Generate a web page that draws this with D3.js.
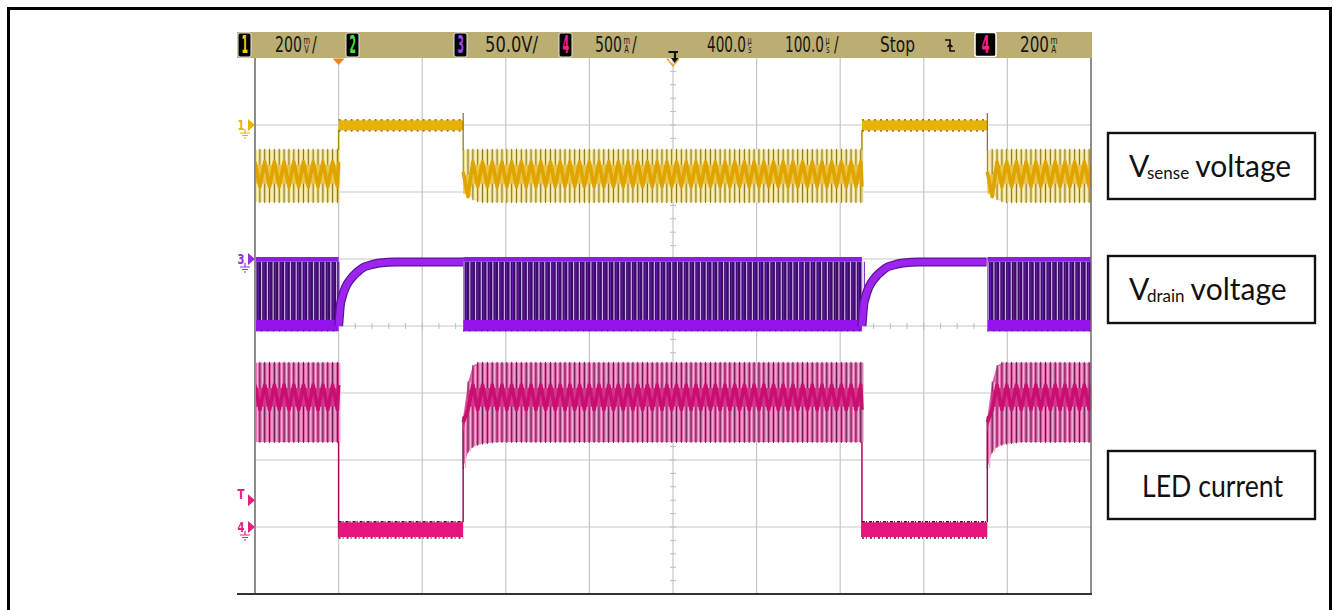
<!DOCTYPE html>
<html><head><meta charset="utf-8">
<script src="https://cdn.jsdelivr.net/npm/d3@7"></script>
<style>html,body{margin:0;padding:0;background:#fff;overflow:hidden}svg{display:block}</style>
</head><body>
<svg id="c" width="1333" height="610"></svg>
<script>
// ================= DATA =================
const timeRangeUs = [0, 1000];            // 10 div x 100 µs/div
const divRange = [-4, 4];                 // 8 vertical divisions
const offWindows = [[100, 249], [726, 876]];          // switching stopped (µs)
const onWindows = [[0, 100], [249, 726], [876, 1000]];
const switchPeriodUs = 5.8;               // ripple period of ch1 / ch4
const drainPeriodUs = 6.9;                // drain pulse period, ch3

// channel 1 : Vsense (div)
const ch1OffBand = [2.92, 3.07];
const ch1Envelope = [1.85, 2.63];
const ch1Core = [2.08, 2.45];
const ch1SettleBottom = [[0, 2.25], [4, 2.02], [10, 1.9], [20, 1.85]];  // µs after turn-on
const ch1TurnOnSpike = 3.18;

// channel 3 : Vdrain (div)
const ch3LowBand = [-0.08, 0.09];
const ch3HighBand = [0.96, 1.03];
const ch3Recovery = [[0, 0], [1, 0.15], [2, 0.3], [4, 0.42], [7, 0.54], [11, 0.64], [17, 0.74],
                     [23, 0.81], [29, 0.87], [38, 0.91], [49, 0.94], [69, 0.955], [149, 0.955]];

// channel 4 : LED current (div)
const ch4OffBand = [-3.15, -2.93];
const ch4Envelope = [-1.73, -0.55];
const ch4Core = [-1.25, -0.88];
const ch4RiseTop = [[0, -1.36], [3.6, -1.0], [8.4, -0.66], [14, -0.55]];
const ch4RiseBottom = [[0, -2.12], [3.6, -1.93], [8.4, -1.82], [20, -1.76], [40, -1.73]];

// left-side level markers
const markerLabels = ["1", "3", "T", "4"];
const markerLevels = [3.0, 1.0, -2.6, -3.0];
const markerGround = [true, true, false, true];

// header (status line)
const headerBoxes = ["1", "2", "3", "4"];
const headerMain = ["200", "50.0V/", "500", "400.0", "100.0", "Stop", "200"];
const headerUnitTop = ["m", "", "m", "µ", "µ", "", "m"];
const headerUnitBottom = ["V", "", "A", "s", "s", "", "A"];
const headerTail = ["/", "", "/", "", "/", "", ""];
const triggerPositionUs = 100;
const delayRefUs = 500;

// annotation boxes
const labelMain = ["V", "V", "LED current"];
const labelSub = ["sense", "drain", ""];
const labelTail = [" voltage", " voltage", ""];

// ================= DRAWING =================
const svg = d3.select("#c");
const x = d3.scaleLinear().domain(timeRangeUs).range([255, 1091]);
const y = d3.scaleLinear().domain(divRange).range([594, 58]);
const interp = (pts, t) => d3.scaleLinear().domain(pts.map(p => p[0])).range(pts.map(p => p[1])).clamp(true)(t);

// outer frame
svg.append("rect").attr("x", 8.5).attr("y", 8.5).attr("width", 1322).attr("height", 640)
  .attr("fill", "#fff").attr("stroke", "#000").attr("stroke-width", 3);

// screen
svg.append("rect").attr("x", x(0)).attr("y", y(4)).attr("width", x(1000) - x(0)).attr("height", y(-4) - y(4)).attr("fill", "#fff");
svg.append("defs").append("clipPath").attr("id", "scr").append("rect")
  .attr("x", x(0)).attr("y", y(4)).attr("width", x(1000) - x(0)).attr("height", y(-4) - y(4));

const grid = svg.append("g");
grid.selectAll("line.v").data(x.ticks(10).slice(1, -1)).join("line")
  .attr("x1", d => x(d)).attr("x2", d => x(d)).attr("y1", y(4)).attr("y2", y(-4))
  .attr("stroke", "#c6c6c6").attr("stroke-width", 1.2);
grid.selectAll("line.h").data(y.ticks(8).slice(1, -1)).join("line")
  .attr("y1", d => y(d)).attr("y2", d => y(d)).attr("x1", x(0)).attr("x2", x(1000))
  .attr("stroke", "#c6c6c6").attr("stroke-width", 1.2);
// minor ticks on centre axes
grid.selectAll("line.tx").data(d3.range(0, 1001, 20)).join("line")
  .attr("x1", d => x(d)).attr("x2", d => x(d)).attr("y1", y(0) - 3).attr("y2", y(0) + 3)
  .attr("stroke", "#bdbdbd").attr("stroke-width", 1);
grid.selectAll("line.ty").data(d3.range(-4, 4.01, 0.2)).join("line")
  .attr("y1", d => y(d)).attr("y2", d => y(d)).attr("x1", x(500) - 3).attr("x2", x(500) + 3)
  .attr("stroke", "#bdbdbd").attr("stroke-width", 1);

const tr = svg.append("g").attr("clip-path", "url(#scr)");

// ---------- generic ripple band ----------
function rippleBand(g, a, b, period, topF, botF, coreF, sty) {
  const ts = d3.range(a, b, period);
  const pts = ts.concat([b]);
  g.append("path").attr("d", d3.area().x(t => x(t)).y0(t => y(botF(t))).y1(t => y(topF(t)))(pts))
    .attr("fill", sty.fill);
  g.selectAll(null).data(ts).join("line")
    .attr("x1", t => x(t + period * 0.5)).attr("x2", t => x(t + period * 0.5))
    .attr("y1", t => y(botF(t))).attr("y2", t => y(topF(t)))
    .attr("stroke", sty.light).attr("stroke-width", 1.3);
  g.selectAll(null).data(ts).join("line")
    .attr("x1", t => x(t)).attr("x2", t => x(t))
    .attr("y1", t => y(botF(t)) + 1).attr("y2", t => y(topF(t)) - 1)
    .attr("stroke", sty.dark).attr("stroke-width", 0.9);
  g.append("path").attr("d", d3.area().x(t => x(t)).y0(t => y(coreF(t)[0]) - 3).y1(t => y(coreF(t)[1]) + 3)(pts))
    .attr("fill", sty.coreFill);
  g.append("path").attr("d", d3.line().x(d => x(d[0])).y(d => y(d[1]))(
      pts.map((t, i) => { const c = coreF(t); return [t, i % 2 ? c[0] : c[1]]; })))
    .attr("fill", "none").attr("stroke", sty.core).attr("stroke-width", 3.6).attr("stroke-linejoin", "round");
}

// ---------- channel 1 : Vsense ----------
const g1 = tr.append("g");
offWindows.forEach(([a, b]) => {
  g1.append("line").attr("x1", x(a)).attr("x2", x(a)).attr("y1", y(ch1Envelope[0])).attr("y2", y(ch1OffBand[0]))
    .attr("stroke", "#b08a00").attr("stroke-width", 1.5);
  g1.append("rect").attr("x", x(a)).attr("width", x(b) - x(a))
    .attr("y", y(ch1OffBand[1])).attr("height", y(ch1OffBand[0]) - y(ch1OffBand[1])).attr("fill", "#e8b200");
  [ch1OffBand[1], ch1OffBand[0]].forEach((lv, k) => g1.append("line")
    .attr("x1", x(a)).attr("x2", x(b)).attr("y1", y(lv) + (k ? 0.5 : -0.5)).attr("y2", y(lv) + (k ? 0.5 : -0.5))
    .attr("stroke", "#6a5410").attr("stroke-width", 1.2).attr("stroke-dasharray", "2 4"));
  g1.append("line").attr("x1", x(b)).attr("x2", x(b)).attr("y1", y(ch1TurnOnSpike)).attr("y2", y(ch1Envelope[1]))
    .attr("stroke", "#8a7010").attr("stroke-width", 1.2);
});
onWindows.forEach(([a, b]) => {
  const settle = a > 0;
  rippleBand(g1, a, b, switchPeriodUs,
    () => ch1Envelope[1],
    t => settle ? interp(ch1SettleBottom, t - a) : ch1Envelope[0],
    t => settle && t - a < 8 ? [ch1Core[0] - 0.15, ch1Core[1] - 0.15] : ch1Core,
    { fill: "#eedd8e", light: "#fbf4cf", dark: "#7c6a14", core: "#dfa400", coreFill: "#e9c440" });
});

// ---------- channel 3 : Vdrain ----------
const g3 = tr.append("g");
onWindows.forEach(([a, b]) => {
  const ts = d3.range(a, b, drainPeriodUs);
  g3.append("rect").attr("x", x(a)).attr("width", x(b) - x(a))
    .attr("y", y(ch3HighBand[0])).attr("height", y(ch3LowBand[1]) - y(ch3HighBand[0])).attr("fill", "#3c0c66");
  g3.selectAll(null).data(ts).join("line")
    .attr("x1", t => x(t + drainPeriodUs * 0.55)).attr("x2", t => x(t + drainPeriodUs * 0.55))
    .attr("y1", y(ch3HighBand[0])).attr("y2", y(ch3LowBand[1]))
    .attr("stroke", "#6a1cb0").attr("stroke-width", 1);
  g3.selectAll(null).data(ts).join("line")
    .attr("x1", t => x(t + 1)).attr("x2", t => x(t + 1))
    .attr("y1", y(ch3HighBand[0])).attr("y2", y(ch3LowBand[1]))
    .attr("stroke", "#cdb2ea").attr("stroke-width", 1.2);
  g3.append("rect").attr("x", x(a)).attr("width", x(b) - x(a))
    .attr("y", y(ch3HighBand[1])).attr("height", y(ch3HighBand[0]) - y(ch3HighBand[1])).attr("fill", "#8a22dc");
  g3.append("rect").attr("x", x(a)).attr("width", x(b) - x(a))
    .attr("y", y(ch3LowBand[1])).attr("height", y(ch3LowBand[0]) - y(ch3LowBand[1])).attr("fill", "#9412ec");
  g3.append("line").attr("x1", x(a)).attr("x2", x(b)).attr("y1", y(ch3LowBand[0]) - 0.5).attr("y2", y(ch3LowBand[0]) - 0.5)
    .attr("stroke", "#3a0a60").attr("stroke-width", 1).attr("stroke-dasharray", "1 5");
});
offWindows.forEach(([a, b]) => {
  const curve = d3.line().x(p => x(a + p[0])).y(p => y(p[1])).curve(d3.curveMonotoneX)(ch3Recovery.filter(p => a + p[0] <= b));
  g3.append("path").attr("d", curve).attr("fill", "none").attr("stroke", "#5a1498").attr("stroke-width", 9);
  g3.append("path").attr("d", curve).attr("fill", "none").attr("stroke", "#9d24ee").attr("stroke-width", 6.5);
});

// ---------- channel 4 : LED current ----------
const g4 = tr.append("g");
offWindows.forEach(([a, b]) => {
  g4.append("line").attr("x1", x(a)).attr("x2", x(a)).attr("y1", y(ch4Envelope[1])).attr("y2", y(ch4OffBand[0]))
    .attr("stroke", "#a0105a").attr("stroke-width", 1.5);
  g4.append("rect").attr("x", x(a)).attr("width", x(b) - x(a))
    .attr("y", y(ch4OffBand[1])).attr("height", y(ch4OffBand[0]) - y(ch4OffBand[1])).attr("fill", "#e8147e");
  [ch4OffBand[1], ch4OffBand[0]].forEach((lv, k) => g4.append("line")
    .attr("x1", x(a)).attr("x2", x(b)).attr("y1", y(lv) + (k ? 1 : -0.5)).attr("y2", y(lv) + (k ? 1 : -0.5))
    .attr("stroke", "#4e0a2c").attr("stroke-width", 1.4).attr("stroke-dasharray", k ? "2 2 1 3" : "3 1 1 2"));
  g4.append("line").attr("x1", x(b)).attr("x2", x(b)).attr("y1", y(ch4OffBand[1])).attr("y2", y(ch4RiseTop[0][1]))
    .attr("stroke", "#a0105a").attr("stroke-width", 1.5);
});
onWindows.forEach(([a, b]) => {
  const settle = a > 0;
  const topF = t => settle ? interp(ch4RiseTop, t - a) : ch4Envelope[1];
  const botF = t => settle ? interp(ch4RiseBottom, t - a) : ch4Envelope[0];
  rippleBand(g4, a, b, switchPeriodUs, topF, botF,
    t => { const hi = Math.min(ch4Core[1], topF(t) - 0.08); return [Math.min(ch4Core[0], hi - 0.2), hi]; },
    { fill: "#de66ab", light: "#f3b4d8", dark: "#5a0e3c", core: "#c8106f", coreFill: "#d6348c" });
});

// screen borders
svg.append("line").attr("x1", x(0)).attr("x2", x(0)).attr("y1", y(4)).attr("y2", y(-4)).attr("stroke", "#8c8c8c").attr("stroke-width", 2);
svg.append("line").attr("x1", x(1000)).attr("x2", x(1000)).attr("y1", y(4)).attr("y2", y(-4)).attr("stroke", "#6a6a6a").attr("stroke-width", 1.5);
svg.append("line").attr("x1", 237).attr("x2", 1092).attr("y1", y(-4)).attr("y2", y(-4)).attr("stroke", "#333").attr("stroke-width", 2);

// ---------- header bar ----------
const hb = svg.append("g").style("font-family", "'DejaVu Sans', sans-serif");
hb.append("rect").attr("x", 237).attr("y", 32).attr("width", 855).attr("height", 26).attr("fill", "#bcae72");
const boxX = [238, 346, 454, 559];
const boxColor = ["#f2d200", "#3fe03f", "#a046ff", "#ff1f8f"];
headerBoxes.forEach((lab, i) => {
  hb.append("rect").attr("x", boxX[i]).attr("y", 33).attr("width", 13).attr("height", 24).attr("rx", 2)
    .attr("fill", "#000").attr("stroke", "#e6e6e6").attr("stroke-width", 1);
  hb.append("text").attr("x", boxX[i] + 3.5).attr("y", 53).text(lab).attr("fill", boxColor[i])
    .style("font-size", "25px").style("font-weight", "bold").attr("textLength", 6.5).attr("lengthAdjust", "spacingAndGlyphs");
});
// right box "4" with white frame
hb.append("rect").attr("x", 975).attr("y", 32.5).attr("width", 21).attr("height", 24).attr("rx", 2)
  .attr("fill", "#000").attr("stroke", "#fff").attr("stroke-width", 1.5);
hb.append("text").attr("x", 981.5).attr("y", 53).text("4").attr("fill", "#ff1f8f")
  .style("font-size", "25px").style("font-weight", "bold").attr("textLength", 8).attr("lengthAdjust", "spacingAndGlyphs");

// each status item is one condensed text element (main figure + stacked unit + slash)
const hX = [275, 485, 595, 707, 785, 880, 1020];
const hW = [27, 53, 27, 39, 39, 35, 29];
headerMain.forEach((m, i) => {
  const t = hb.append("text").attr("fill", "#151515").style("font-size", "21px");
  t.append("tspan").attr("x", 0).attr("y", 0).text(m);
  const natural = t.node().getComputedTextLength();
  const s = hW[i] / natural;
  t.attr("transform", `translate(${hX[i]},52) scale(${s},1)`);
  let cx = (hW[i] + 1.5) / s;
  if (headerUnitTop[i]) {
    t.append("tspan").attr("x", cx).attr("y", -8.5).style("font-size", "10px").text(headerUnitTop[i]);
    t.append("tspan").attr("x", cx + 0.8 / s).attr("y", 1).style("font-size", "10px").text(headerUnitBottom[i]);
    cx += 8.5 / s;
  }
  if (headerTail[i]) t.append("tspan").attr("x", cx).attr("y", 0).text(headerTail[i]);
});
// trigger-mode icon and edge icon
hb.append("path").attr("d", "M668.5,52 H678 M675,52 V59").attr("stroke", "#111").attr("stroke-width", 2.2).attr("fill", "none");
hb.append("path").attr("d", "M671,58 L679,58 L675,63.5 Z").attr("fill", "#111");
hb.append("path").attr("d", "M945,40 H950 V51 H955 M947.5,47 L950,44.5 L952.5,47").attr("stroke", "#111").attr("stroke-width", 1.6).attr("fill", "none");

// top markers
svg.append("path").attr("d", `M${x(triggerPositionUs) - 6},58.5 L${x(triggerPositionUs) + 6},58.5 L${x(triggerPositionUs)},65 Z`).attr("fill", "#f08424");
svg.append("path").attr("d", `M${x(delayRefUs) - 6},58.5 L${x(delayRefUs)},66 L${x(delayRefUs) + 6},58.5`).attr("fill", "none").attr("stroke", "#e8a23c").attr("stroke-width", 1.5);

// left markers
const markerColor = ["#e8b400", "#9a2ae0", "#e2207e", "#e2207e"];
const mk = svg.append("g").style("font-family", "'DejaVu Sans', sans-serif").style("font-weight", "bold");
markerLabels.forEach((lab, i) => {
  const yy = y(markerLevels[i]);
  const ty = lab === "T" ? yy - 6 : yy;
  mk.append("text").attr("x", 241).attr("y", ty + 5).attr("text-anchor", "middle").text(lab).attr("fill", markerColor[i])
    .style("font-size", "14px").attr("textLength", 7).attr("lengthAdjust", "spacingAndGlyphs");
  mk.append("path").attr("d", `M248,${yy - 6} L255,${yy} L248,${yy + 6} Z`).attr("fill", markerColor[i]);
  if (markerGround[i]) {
    mk.append("path").attr("d", `M245,${yy + 4} V${yy + 8} M240,${yy + 8} H250 M242,${yy + 10.5} H248 M244,${yy + 13} H246`)
      .attr("stroke", markerColor[i]).attr("stroke-width", 1.2).attr("fill", "none");
  }
});

// ---------- annotation boxes ----------
const boxY = [133, 256, 451];
const boxH = [66, 67, 68];
const baseY = [177, 300, 497];
const an = svg.append("g").style("font-family", "Lato, 'Noto Sans', sans-serif").attr("fill", "#111");
labelMain.forEach((m, i) => {
  an.append("rect").attr("x", 1108).attr("y", boxY[i]).attr("width", 207).attr("height", boxH[i])
    .attr("fill", "#fff").attr("stroke", "#111").attr("stroke-width", 2.4);
  if (labelSub[i]) {
    const t = an.append("text").attr("y", baseY[i]).style("font-size", "30px");
    t.append("tspan").attr("x", 1129).text(m);
    t.append("tspan").attr("x", 1147).attr("y", baseY[i] + 1.5).style("font-size", "17px").text(labelSub[i]);
    t.append("tspan").attr("dx", 6).attr("y", baseY[i]).text(labelTail[i].trim());
  } else {
    an.append("text").attr("x", 1142).attr("y", baseY[i]).text(m).style("font-size", "31px")
      .attr("textLength", 141).attr("lengthAdjust", "spacingAndGlyphs");
  }
});
</script>
</body></html>
